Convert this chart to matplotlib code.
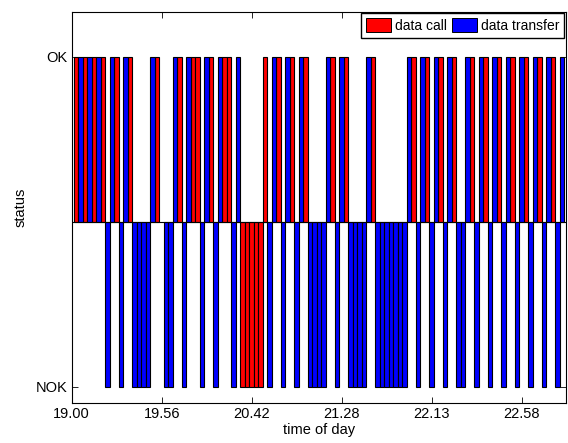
import matplotlib
matplotlib.use("Agg")
import matplotlib.pyplot as plt
from matplotlib.patches import Patch

# event index of each bar (one slot per event), status: 1 = OK, -1 = NOK
call_idx = [1, 3, 5, 7, 10, 13, 19, 24, 27, 28, 31, 34, 35,
            38, 39, 40, 41, 42, 43, 46, 49, 52, 58, 61, 67, 76, 79,
            82, 85, 89, 92, 95, 98, 101, 104, 107]
call_status = [1] * 13 + [-1] * 5 + [1] * 18

transfer_ok = [2, 4, 6, 9, 12, 18, 23, 26, 30, 33, 37, 45, 48, 51, 57,
               60, 66, 75, 78, 81, 84, 88, 91, 94, 97, 100, 103, 106, 109]
transfer_nok = [8, 11, 14, 15, 16, 17, 21, 22, 25, 29, 32, 36, 44, 47, 50,
                53, 54, 55, 56, 59, 62, 63, 64, 65, 68, 69, 70, 71, 72, 73,
                74, 77, 80, 83, 86, 87, 90, 93, 96, 99, 102, 105, 108]
transfer_idx = transfer_ok + transfer_nok
transfer_status = [1] * len(transfer_ok) + [-1] * len(transfer_nok)

tick_pos = [0, 20, 40, 60, 80, 100]
tick_labels = ["19.00", "19.56", "20.42", "21.28", "22.13", "22.58"]

plt.rcParams["font.family"] = ["Liberation Sans", "DejaVu Sans"]

fig = plt.figure(figsize=(5.68, 4.43), dpi=100)
ax = fig.add_axes([0.1262, 0.0896, 0.8694, 0.8833])

ax.bar(call_idx, call_status, width=1.0, color="#ff0000",
       edgecolor="black", linewidth=0.8)
ax.bar(transfer_idx, transfer_status, width=1.0, color="#0000ff",
       edgecolor="black", linewidth=0.8)
ax.axhline(0, color="black", linewidth=0.8)

ax.set_xlim(0, 109.75)
ax.set_ylim(-1.1, 1.27)
ax.set_xticks(tick_pos)
ax.set_xticklabels(tick_labels)
ax.set_yticks([-1, 1])
ax.set_yticklabels(["NOK", "OK"])
ax.tick_params(direction="in", length=4, width=0.6, labelsize=10.5,
               top=True, right=True, pad=3)
for s in ax.spines.values():
    s.set_linewidth(0.8)

ax.set_xlabel("time of day", fontsize=10.5, labelpad=1)
ax.set_ylabel("status", fontsize=10.5, labelpad=6)

handles = [Patch(facecolor="#ff0000", edgecolor="black", linewidth=0.7),
           Patch(facecolor="#0000ff", edgecolor="black", linewidth=0.7)]
ax.legend(handles, ["data call", "data transfer"], loc="upper right",
          ncol=2, fontsize=10, frameon=True, fancybox=False,
          edgecolor="black", framealpha=1, borderpad=0.35,
          handlelength=1.8, handleheight=1.1, handletextpad=0.3,
          columnspacing=0.3, borderaxespad=0.1)

fig.savefig("out.png", dpi=100)
